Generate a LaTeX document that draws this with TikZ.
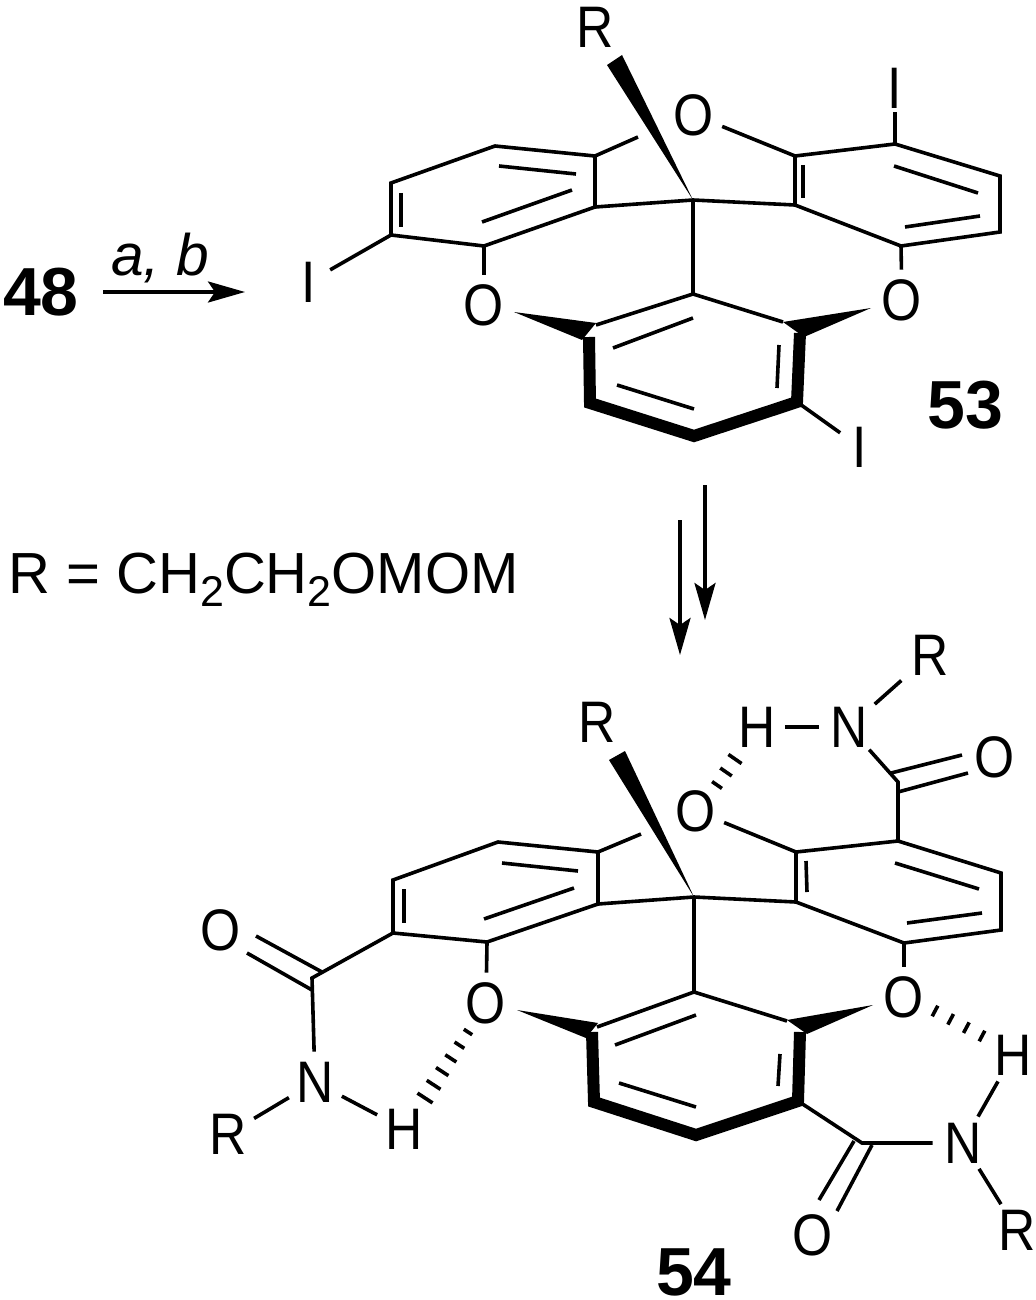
\documentclass[tikz,border=0pt]{standalone}
\usepackage{fontspec}
\setmainfont{Liberation Sans}
\newfontfamily\atomfont[FakeStretch=0.88]{Liberation Sans}
\usetikzlibrary{calc,arrows.meta}
\tikzset{
  bond/.style={line width=1.8pt,line join=miter,line cap=butt},
  boldbond/.style={line width=6pt,line join=miter,line cap=butt},
  wedgeb/.style={fill=black,draw=none},
  hashb/.style={line width=1.8pt},
  atom/.style={circle,inner sep=0pt,minimum size=#1,font=\atomfont\fontsize{29.3}{32}\selectfont},
  atom/.default=30pt,
  cmpd/.style={inner sep=0pt,font=\fontsize{34}{40}\selectfont\bfseries},
  rxn/.style={line width=1.8pt,-{Stealth[length=18.5pt,width=10.5pt,inset=3.5pt]}}
}
\begin{document}
\begin{tikzpicture}[x=0.5pt,y=-0.5pt]
\useasboundingbox (0,0) rectangle (1036,1300);
% ---------- labels and reaction arrows
\node[cmpd] (n48) at (41,292) {48};
\node[inner sep=0pt,anchor=base west,font=\fontsize{29.3}{32}\selectfont\itshape] (ab) at (111,275) {a,\ b};
\coordinate (ar1s) at (103,292); \coordinate (ar1e) at (245,292);
\draw[rxn] (ar1s) -- (ar1e);
\node[inner sep=0pt,anchor=base west,font=\fontsize{29}{32}\selectfont] (rdef) at (8,593)
  {R = CH\raisebox{-6.5pt}{\fontsize{21.5}{24}\selectfont 2}CH\raisebox{-6.5pt}{\fontsize{21.5}{24}\selectfont 2}OMOM};
\coordinate (ar2s) at (705,485); \coordinate (ar2e) at (705,620);
\coordinate (ar3s) at (680,520); \coordinate (ar3e) at (680,655);
\draw[rxn] (ar2s) -- (ar2e);
\draw[rxn] (ar3s) -- (ar3e);
\node[cmpd] (n53) at (965,405) {53};
\node[cmpd] (n54) at (694,1272) {54};
% ---------- compound 53
\foreach \n/\x/\y in {ct/693/200,a1/391/183,a2/495/146,a3/595/156,a4/595/207,a5/484/246,a6/391/235,
  b1/795/156,b2/795/205,b3/901/246,b4/1000/232,b5/1000/176,b6/895/144,
  c1/693/294,c2/783/322,c2b/800/333,c3/797/402,c4/694/436,c5/590/403,c6/596/325,c6b/589/337,
  a3e/638/137}
  \coordinate (\n) at (\x,\y);
\node[atom] (R1) at (595,27) {R};
\node[atom] (O1) at (694,115) {O};
\node[atom=24pt] (I1) at (895,88) {I};
\node[atom=24pt] (I2) at (309,282) {I};
\node[atom=24pt] (I3) at (860,447) {I};
\node[atom] (O2) at (484,305) {O};
\node[atom] (O3) at (902,300) {O};
\draw[bond] (a3e) -- (a3) -- (a2) -- (a1) -- (a6) -- (a5) -- (a4) -- (a3);
\draw[bond] (a4) -- (ct) -- (b2);
\draw[bond] (O1) -- (b1) -- (b6) -- (b5) -- (b4) -- (b3) -- (b2) -- (b1);
\draw[bond] (ct) -- (c1);
\draw[bond] (c6) -- (c1) -- (c2);
\draw[bond] (a6) -- (I2);
\draw[bond] (b6) -- (I1);
\draw[bond] (c3) -- (I3);
\draw[bond] (a5) -- (O2);
\draw[bond] (b3) -- (O3);
\draw[boldbond] (c6b) -- (c5) -- (c4) -- (c3) -- (c2b);
\fill[wedgeb] (693,200) -- (607,65) -- (622,55) -- cycle;
\fill[wedgeb] (514,312) -- (596,323) -- (582,340) -- cycle;
\fill[wedgeb] (871,308) -- (783,322) -- (804,337) -- cycle;
\draw[bond] (401,193) -- (401,227);
\draw[bond] (499,166) -- (576,174);
\draw[bond] (482,222) -- (572,190);
\draw[bond] (803,165) -- (803,198);
\draw[bond] (894,166) -- (978,193);
\draw[bond] (905,227) -- (980,216);
\draw[bond] (613,348) -- (693,318);
\draw[bond] (779,345) -- (777,388);
\draw[bond] (617,385) -- (694,409);
% ---------- compound 54
\foreach \n/\x/\y in {mct/694/897,ma1/393/880,ma2/498/842,ma3/598/852,ma4/598/904,ma5/487/942,ma6/393/933,
  mb1/796/852,mb2/796/902,mb3/904/943,mb4/1001/930,mb5/1001/873,mb6/898/841,
  mc1/694/992,mc2/787/1021,mc2b/800/1032,mc3/798/1101,mc4/696/1135,mc5/594/1102,mc6/597/1027,mc6b/592/1032,
  ma3e/641/834,
  cq1/898/782,cq2/312/978,cq3/862/1143}
  \coordinate (\n) at (\x,\y);
\node[atom] (mR1) at (597,722) {R};
\node[atom] (mO1) at (696,811) {O};
\node[atom] (mO2) at (486,1003) {O};
\node[atom] (mO3) at (904,997) {O};
\node[atom] (mO4) at (995,757) {O};
\node[atom] (mN1) at (849,727) {N};
\node[atom=26pt] (mH1) at (757,727) {H};
\node[atom] (mR2) at (930,655) {R};
\node[atom] (mO5) at (221,930) {O};
\node[atom] (mN2) at (315,1082) {N};
\node[atom] (mR3) at (228,1134) {R};
\node[atom] (mH2) at (404,1129) {H};
\node[atom] (mO6) at (813,1235) {O};
\node[atom] (mN3) at (963,1143) {N};
\node[atom] (mH3) at (1013,1055) {H};
\node[atom] (mR4) at (1017,1230) {R};
\draw[bond] (ma3e) -- (ma3) -- (ma2) -- (ma1) -- (ma6) -- (ma5) -- (ma4) -- (ma3);
\draw[bond] (ma4) -- (mct) -- (mb2);
\draw[bond] (mO1) -- (mb1) -- (mb6) -- (mb5) -- (mb4) -- (mb3) -- (mb2) -- (mb1);
\draw[bond] (mct) -- (mc1);
\draw[bond] (mc6) -- (mc1) -- (mc2);
\draw[bond] (ma5) -- (mO2);
\draw[bond] (mb3) -- (mO3);
\draw[boldbond] (mc6b) -- (mc5) -- (mc4) -- (mc3) -- (mc2b);
\fill[wedgeb] (694,897) -- (609,760) -- (625,751) -- cycle;
\fill[wedgeb] (517,1010) -- (598,1023) -- (586,1038) -- cycle;
\fill[wedgeb] (873,1005) -- (787,1020) -- (807,1034) -- cycle;
\draw[bond] (404,889) -- (404,923);
\draw[bond] (502,863) -- (578,871);
\draw[bond] (484,919) -- (574,888);
\draw[bond] (806,861) -- (807,892);
\draw[bond] (895,863) -- (979,889);
\draw[bond] (907,923) -- (982,913);
\draw[bond] (615,1045) -- (696,1015);
\draw[bond] (780,1054) -- (778,1086);
\draw[bond] (619,1083) -- (696,1107);
% amide top right
\draw[bond] (mb6) -- (cq1) -- (mN1);
\draw[bond] (891,773) -- (962,755);
\draw[bond] (898,792) -- (968,773);
\draw[bond] (mH1) -- (mN1);
\draw[bond,shorten >=4pt,shorten <=2pt] (mN1) -- (mR2);
% amide left
\draw[bond] (ma6) -- (cq2) -- (mN2);
\draw[bond] (256,936) -- (322,972);
\draw[bond] (247,953) -- (312,990);
\draw[bond] (mN2) -- (mR3);
\draw[bond] (mN2) -- (mH2);
% amide bottom right
\draw[bond] (mc3) -- (cq3) -- (mN3);
\draw[bond] (854,1141) -- (819,1200);
\draw[bond] (872,1145) -- (837,1211);
\draw[bond] (mN3) -- (mH3);
\draw[bond] (mN3) -- (mR4);
% hydrogen bonds
\coordinate (h1a) at (717,785); \coordinate (h1b) at (735,759);
\coordinate (h1c) at ($(h1a)!2!(h1b)$);
\foreach \t in {0,0.5,1}
  \draw[hashb] ($(h1a)!\t!(h1b)!3pt+\t*1pt!90:(h1c)$) -- ($(h1a)!\t!(h1b)!3pt+\t*1pt!-90:(h1c)$);
\coordinate (h2a) at (468,1032); \coordinate (h2b) at (425,1098);
\coordinate (h2c) at ($(h2a)!2!(h2b)$);
\foreach \t in {0,0.2,0.4,0.6,0.8,1}
  \draw[hashb] ($(h2a)!\t!(h2b)!2.5pt+\t*2pt!90:(h2c)$) -- ($(h2a)!\t!(h2b)!2.5pt+\t*2pt!-90:(h2c)$);
\coordinate (h3a) at (935,1011); \coordinate (h3b) at (982,1036);
\coordinate (h3c) at ($(h3a)!2!(h3b)$);
\foreach \t in {0,0.333,0.667,1}
  \draw[hashb] ($(h3a)!\t!(h3b)!3pt!90:(h3c)$) -- ($(h3a)!\t!(h3b)!3pt!-90:(h3c)$);
\end{tikzpicture}
\end{document}
